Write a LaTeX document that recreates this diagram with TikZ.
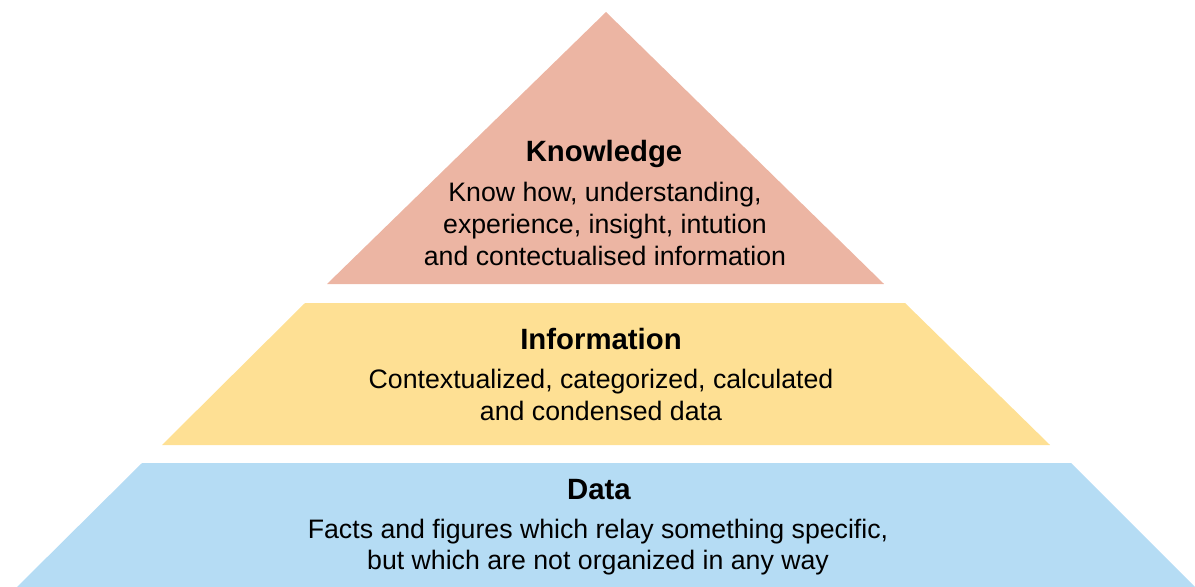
\documentclass[tikz,border=0pt]{standalone}
\usepackage{fontspec}
\setmainfont{Liberation Sans}
\usepackage{tikz}
\usetikzlibrary{calc}
\definecolor{knowcol}{HTML}{ECB5A3}
\definecolor{infocol}{HTML}{FEE094}
\definecolor{datacol}{HTML}{B5DCF4}
\tikzset{
  layertitle/.style={font=\fontsize{16.7}{19}\selectfont\bfseries, inner sep=0pt},
  layertext/.style={font=\fontsize{15.2}{18}\selectfont, align=center, inner sep=0pt}
}

\begin{document}
\begin{tikzpicture}[x=0.02cm,y=-0.02cm]
\useasboundingbox (0,0) rectangle (1195,587);

% layers of the pyramid
\fill[knowcol] (606,12) -- (884,284) -- (327,284) -- cycle;
\fill[infocol] (305,303) -- (905,303) -- (1050,445) -- (162,445) -- cycle;
\fill[datacol] (142,463) -- (1071,463) -- (1195,587) -- (17,587) -- cycle;

\node[layertitle] (knowtitle) at (604,154) {Knowledge};
\node[layertext] (knowtext) at (605,224) {Know how, understanding,\\experience, insight, intution\\and contectualised information};

\node[layertitle] (infotitle) at (601,339) {Information};
\node[layertext] (infotext) at (601,395) {Contextualized, categorized, calculated\\and condensed data};

\node[layertitle] (datatitle) at (599,490) {Data};
\node[layertext] (datatext) at (598,547) {Facts and figures which relay something specific,\\but which are not organized in any way};
\end{tikzpicture}
\end{document}
